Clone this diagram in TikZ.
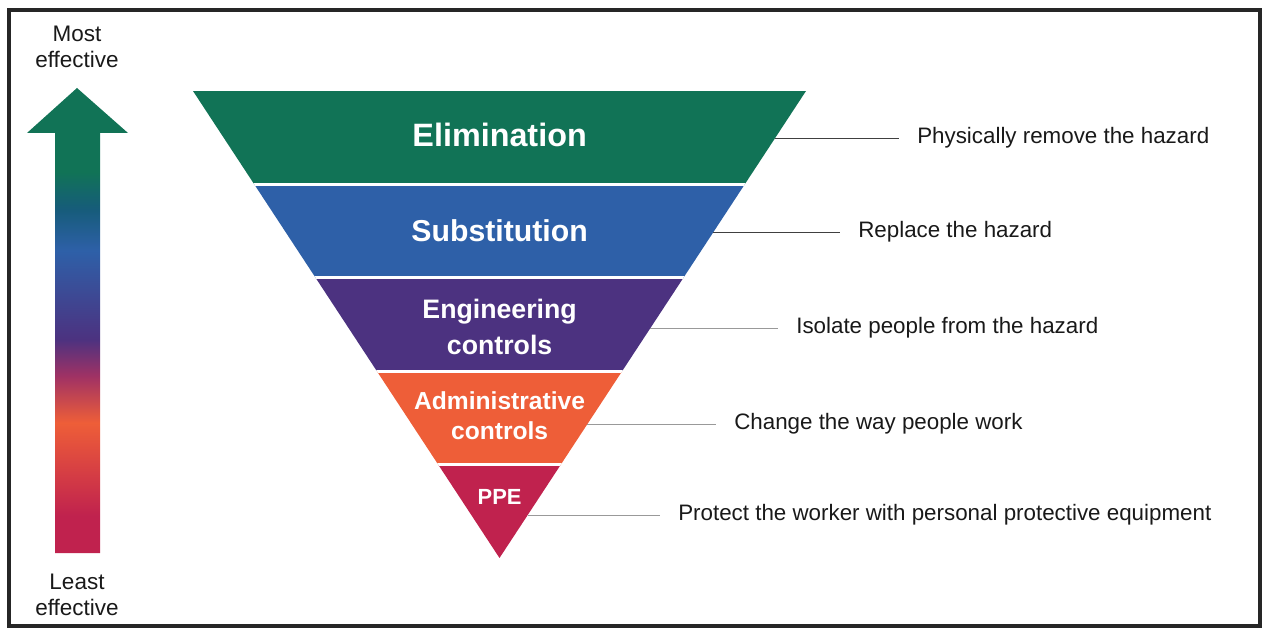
\documentclass[tikz,border=0pt]{standalone}
\usepackage{fontspec}
\setmainfont{Liberation Sans}
\usetikzlibrary{calc}

\definecolor{elimgreen}{RGB}{17,115,86}
\definecolor{substblue}{RGB}{46,96,168}
\definecolor{engpurple}{RGB}{76,50,128}
\definecolor{adminorange}{RGB}{238,94,56}
\definecolor{ppered}{RGB}{192,34,78}
\definecolor{midmagenta}{RGB}{160,50,100}
\definecolor{midteal}{RGB}{22,92,122}

\pgfdeclareverticalshading{effshade}{100bp}{color(0bp)=(ppered); color(25bp)=(ppered);
  color(29bp)=(ppered); color(39bp)=(adminorange); color(44bp)=(midmagenta);
  color(48bp)=(engpurple); color(57.5bp)=(substblue); color(62bp)=(midteal);
  color(66bp)=(elimgreen); color(75bp)=(elimgreen); color(100bp)=(elimgreen)}

\begin{document}
\begin{tikzpicture}[
    band/.style={text=white, align=center, inner sep=0pt},
    side/.style={align=center, text=black!90, font=\fontsize{16}{18}\selectfont},
    desc/.style={anchor=west, inner xsep=0.45cm, text height=1.38ex, text depth=0pt, text=black!90, font=\fontsize{15.9}{18}\selectfont},
    leader/.style={draw=black!75, line width=0.6pt},
    faint/.style={draw=black!40, line width=0.5pt}
]
\useasboundingbox (0,0) rectangle (31.65,15.75);

% Frame
\draw[line width=2.4pt, black!85] (0.225,0.1) rectangle (31.5,15.5);

% Effectiveness arrow
\shade[shading=effshade] (1.925,13.55) -- (3.2,12.425) -- (2.5,12.425) -- (2.5,1.925)
  -- (1.375,1.925) -- (1.375,12.425) -- (0.675,12.425) -- cycle;
\node[side] (most) at (1.925,14.575) {Most\\effective};
\node[side] (least) at (1.925,0.875) {Least\\effective};

% Inverted triangle
\coordinate (tl) at (4.825,13.475);
\coordinate (tr) at (20.15,13.475);
\coordinate (apex) at (12.4875,1.8);
\begin{scope}
\clip (tl) -- (tr) -- (apex) -- cycle;
\foreach \col [count=\i] in {elimgreen,substblue,engpurple,adminorange,ppered}
    \fill[\col] (4,{13.475-(\i-1)*2.335}) rectangle (21,{13.475-\i*2.335});
\foreach \i in {1,...,4}
    \draw[white, line width=2pt] (4,{13.475-\i*2.335}) -- (21,{13.475-\i*2.335});
\end{scope}

% Band labels
\node[band, font=\bfseries\fontsize{23}{27}\selectfont] (elim) at (12.49,12.375) {Elimination};
\node[band, font=\bfseries\fontsize{21.5}{25}\selectfont] (subst) at (12.49,9.975) {Substitution};
\node[band, font=\bfseries\fontsize{19}{25.6}\selectfont] (eng) at (12.49,7.5875) {Engineering\\controls};
\node[band, font=\bfseries\fontsize{17.5}{21}\selectfont] (admin) at (12.49,5.3625) {Administrative\\controls};
\node[band, font=\bfseries\fontsize{15.6}{18}\selectfont] (ppe) at (12.49,3.325) {PPE};

% Descriptions
\node[desc] (d1) at (22.475,12.3) {Physically remove the hazard};
\node[desc] (d2) at (21.0,9.95) {Replace the hazard};
\node[desc] (d3) at (19.45,7.55) {Isolate people from the hazard};
\node[desc] (d4) at (17.9,5.15) {Change the way people work};
\node[desc] (d5) at (16.5,2.875) {Protect the worker with personal protective equipment};

% Leader lines from the triangle edge
\coordinate (e1) at ($(apex)!0.8994!(tr)$);
\coordinate (e2) at ($(apex)!0.6981!(tr)$);
\coordinate (e3) at ($(apex)!0.4925!(tr)$);
\coordinate (e4) at ($(apex)!0.2869!(tr)$);
\coordinate (e5) at ($(apex)!0.0921!(tr)$);
\draw[leader] (e1) -- (e1 -| d1.west);
\draw[leader] (e2) -- (e2 -| d2.west);
\draw[faint] (e3) -- (e3 -| d3.west);
\draw[faint] (e4) -- (e4 -| d4.west);
\draw[faint] (e5) -- (e5 -| d5.west);

\end{tikzpicture}
\end{document}
